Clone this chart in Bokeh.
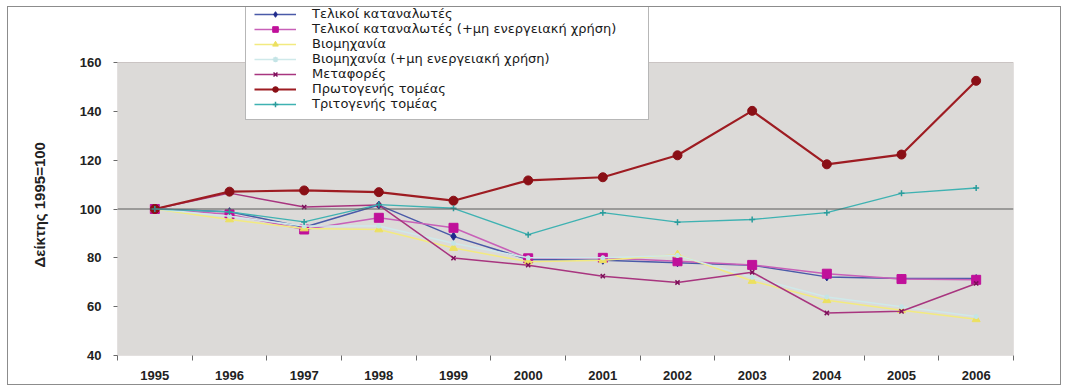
from bokeh.plotting import figure
from bokeh.models import (Legend, LegendItem, Span, FixedTicker, BoxAnnotation,
                          Title, InlineStyleSheet)
from bokeh.embed import file_html
from bokeh.resources import INLINE

# Index of final energy consumption by sector (1995 = 100)
years = [1995, 1996, 1997, 1998, 1999, 2000, 2001, 2002, 2003, 2004, 2005, 2006]
final_consumers = [100, 98.9, 92.5, 101.6, 88.8, 79.3, 79.0, 78.0, 77.0, 72.2, 71.5, 71.5]
final_consumers_ne = [100, 97.8, 91.6, 96.4, 92.3, 79.8, 80.0, 78.6, 77.1, 73.5, 71.3, 71.0]
industry = [100, 95.7, 92.0, 91.6, 84.0, 78.4, 79.0, 81.3, 70.5, 62.6, 58.5, 54.8]
industry_ne = [100, 97.0, 93.0, 93.0, 86.0, 80.0, 80.0, 81.0, 72.0, 64.0, 60.0, 56.0]
transport = [100, 106.5, 100.8, 101.6, 79.9, 77.0, 72.5, 69.9, 74.1, 57.4, 58.1, 69.5]
primary = [100, 107.1, 107.6, 106.9, 103.4, 111.7, 113.0, 122.0, 140.2, 118.3, 122.3, 152.5]
tertiary = [100, 98.8, 94.7, 101.8, 100.3, 89.5, 98.5, 94.6, 95.7, 98.5, 106.4, 108.6]

labels = [
    "Τελικοί καταναλωτές",
    "Τελικοί καταναλωτές (+μη ενεργειακή χρήση)",
    "Βιομηχανία",
    "Βιομηχανία (+μη ενεργειακή χρήση)",
    "Μεταφορές",
    "Πρωτογενής τομέας",
    "Τριτογενής τομέας",
]
y_title = "Δείκτης 1995=100"
y_ticks = [40, 60, 80, 100, 120, 140, 160]
x_lo, x_hi = 1994.5, 2006.5
y_lo, y_hi = 40, 160

FONT = "Liberation Sans"

# The frame reaches up to the legend's top edge; the grey plotting area
# itself covers only 40..160.
y_top = y_hi + 56 / (293 / (y_hi - y_lo))

p = figure(width=1068, height=391, output_backend="svg", toolbar_location=None,
           x_range=(x_lo, x_hi), y_range=(y_lo, y_top),
           min_border_left=117, min_border_right=55,
           min_border_top=6, min_border_bottom=36)
p.background_fill_color = "white"
p.border_fill_color = "white"
p.outline_line_color = None
p.xgrid.visible = False
p.ygrid.visible = False

# thin frame around the whole chart
p.stylesheets = [InlineStyleSheet(css="""
:host { position: relative; }
:host::after {
  content: ""; position: absolute; left: 7px; top: 6px;
  width: 1054px; height: 379px; border: 1px solid #8c8c8c;
  pointer-events: none; box-sizing: border-box;
}
""")]

p.add_layout(BoxAnnotation(left=x_lo, right=x_hi, bottom=y_lo, top=y_hi,
                           fill_color="#dcdad8", fill_alpha=1,
                           line_color="#7a6868", line_width=1, level="underlay"))

p.add_layout(Span(location=100, dimension="width", line_color="#5a5a5a", line_width=1))

# x axis: year labels centred, tick marks between the years
xa = p.xaxis[0]
xa.ticker = FixedTicker(ticks=years, minor_ticks=[y + 0.5 for y in [1994] + years])
xa.major_label_overrides = {y: str(y) for y in years}
xa.major_tick_line_color = None
xa.minor_tick_out = 5
xa.minor_tick_in = 0
xa.minor_tick_line_color = "#6a6a6a"
xa.axis_line_color = None
xa.major_label_text_font = FONT
xa.major_label_text_font_style = "bold"
xa.major_label_text_font_size = "13px"
xa.major_label_text_color = "#222222"
xa.major_label_standoff = 9

ya = p.yaxis[0]
ya.ticker = FixedTicker(ticks=y_ticks)
ya.bounds = (y_lo, y_hi)
ya.minor_tick_line_color = None
ya.major_tick_out = 4
ya.major_tick_in = 0
ya.major_tick_line_color = "#6a6a6a"
ya.axis_line_color = None
ya.major_label_text_font = FONT
ya.major_label_text_font_style = "bold"
ya.major_label_text_font_size = "13px"
ya.major_label_text_color = "#222222"
ya.major_label_standoff = 12
# blank axis label only widens the axis panel, pushing the title outwards
ya.axis_label = " "
ya.axis_label_text_font_size = "8px"
ya.axis_label_standoff = 12

# vertical axis title, anchored at the bottom of the grey area
p.add_layout(Title(text=y_title, align="left", offset=88,
                   text_font="'Liberation Sans Narrow', 'Liberation Sans'",
                   text_font_style="bold", text_font_size="15px",
                   text_color="#222222"), "left")

series = [
    # values, line colour, marker, marker colour, marker size, line width
    (final_consumers, "#4a5aa8", "diamond", "#1f2a8c", 8, 1.5),
    (final_consumers_ne, "#c860b8", "square", "#c0109a", 9, 1.5),
    (industry, "#f2ea80", "triangle", "#ece060", 8, 1.5),
    (industry_ne, "#cfe9ea", "asterisk", "#c4e4e6", 5, 1.5),
    (transport, "#a8357f", "x", "#7e0f5a", 6, 1.5),
    (primary, "#9e1c22", "circle", "#8a0f16", 9, 2.2),
    (tertiary, "#3fb2b2", "cross", "#2a9c9c", 6, 1.3),
]

items = []
for (vals, lc, mk, mc, ms, lw), lab in zip(series, labels):
    r1 = p.line(years, vals, line_color=lc, line_width=lw)
    r2 = p.scatter(years, vals, marker=mk, size=ms, fill_color=mc, line_color=mc,
                   line_width=1.5 if mk in ("x", "cross", "asterisk") else 1)
    items.append(LegendItem(label=lab, renderers=[r1, r2]))

legend = Legend(items=items, location=(128, 235), orientation="vertical",
                glyph_width=42, glyph_height=14, label_height=14, label_width=328,
                label_standoff=16, spacing=0, padding=8, margin=0,
                label_text_font="DejaVu Sans", label_text_font_size="13px",
                label_text_color="#1a1a1a",
                border_line_color="#707070", border_line_width=1,
                background_fill_color="white", background_fill_alpha=1)
p.add_layout(legend, "center")

open("out.html", "w").write(file_html(p, INLINE))
